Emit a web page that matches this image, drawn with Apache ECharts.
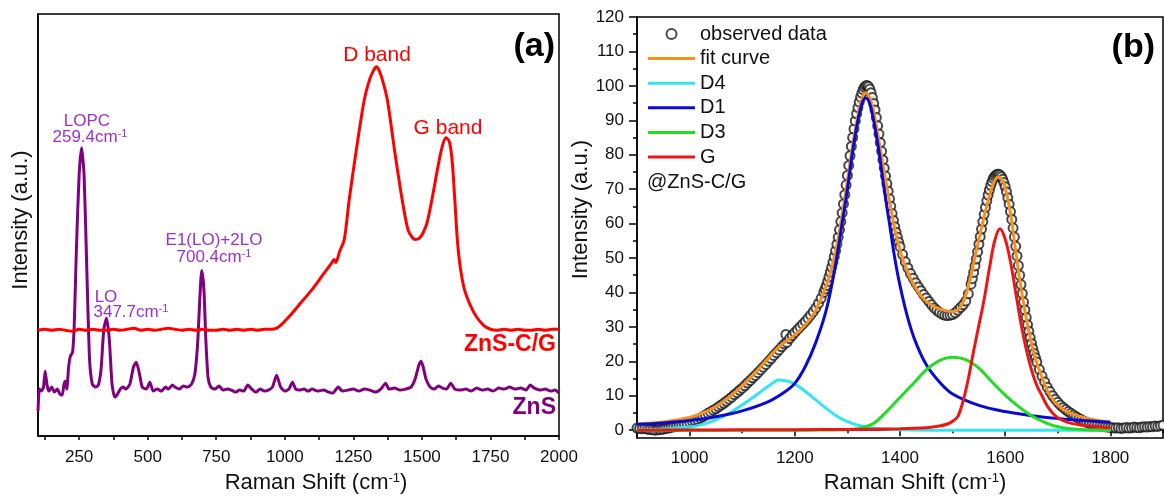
<!doctype html>
<html>
<head>
<meta charset="UTF-8">
<title>Raman spectra ZnS / ZnS-C/G</title>
<script src="https://cdn.jsdelivr.net/npm/echarts@6/dist/echarts.min.js"></script>
<style>
  html, body { margin: 0; padding: 0; background: #fff; }
  #main { width: 1164px; height: 499px; }
</style>
</head>
<body>
<div id="main"></div>
<script>
// ---- panel (a): Raman spectra, [shift cm-1, intensity a.u.] ----
var zncgSpectrum = [[100,106],[125,107],[150,106],[175,107],[200,106],[225,105],[250,107],[275,106],[300,107],[325,106],[350,106],[375,107],[400,106],[425,107],[450,108],[475,106],[500,107],[525,106],[550,107],[575,108],[600,107],[625,106],[650,107],[675,106],[700,107],[725,106],[750,106],[775,107],[800,106],[825,107],[850,106],[875,107],[900,106],[925,107],[950,107],[970,108],[985,111],[1000,115],[1030,124],[1060,134],[1100,147],[1140,162],[1170,173],[1180,177],[1186,174],[1200,185],[1217,197],[1235,237],[1261,287],[1290,337],[1310,358],[1325,367],[1334,370],[1343,367],[1355,358],[1374,337],[1400,287],[1428,237],[1450,206],[1465,199],[1476,197],[1490,198],[1505,204],[1520,215],[1540,242],[1560,272],[1575,291],[1588,299],[1600,295],[1610,277],[1620,237],[1630,194],[1640,169],[1655,147],[1675,132],[1700,119],[1725,111],[1750,107],[1775,106],[1800,107],[1825,106],[1850,107],[1875,106],[1900,106],[1925,107],[1950,106],[1975,107],[2000,107]];

var znsSpectrum = [[100,25],[105,47],[112,45],[120,49],[126,65],[133,51],[140,45],[150,49],[160,44],[170,47],[180,42],[188,41],[195,52],[200,55],[205,47],[212,70],[218,80],[226,84],[232,110],[240,187],[250,262],[259,289],[268,262],[278,167],[288,77],[298,52],[310,49],[320,51],[330,67],[340,107],[350,118],[360,97],[370,52],[380,39],[390,42],[400,47],[410,49],[420,47],[435,52],[448,69],[458,74],[468,65],[480,49],[495,47],[508,54],[520,45],[535,47],[550,45],[565,49],[575,47],[590,51],[600,49],[615,47],[630,50],[645,49],[660,52],[672,62],[682,92],[690,137],[697,166],[705,147],[712,97],[720,59],[730,49],[745,47],[760,50],[775,46],[790,47],[805,46],[820,44],[835,46],[850,45],[865,51],[880,47],[895,44],[910,47],[925,45],[940,46],[955,49],[970,61],[985,49],[1000,45],[1015,47],[1028,54],[1040,47],[1055,46],[1070,47],[1085,45],[1100,47],[1120,45],[1140,46],[1160,44],[1175,43],[1195,49],[1210,45],[1230,46],[1250,47],[1270,45],[1290,47],[1310,46],[1330,44],[1350,47],[1368,53],[1380,47],[1400,48],[1420,46],[1440,47],[1460,49],[1475,57],[1490,72],[1497,75],[1505,69],[1515,57],[1530,49],[1545,47],[1560,50],[1575,48],[1590,47],[1605,53],[1620,47],[1640,46],[1660,47],[1680,45],[1700,48],[1720,46],[1740,47],[1760,45],[1780,48],[1800,47],[1820,49],[1840,47],[1860,48],[1880,46],[1895,51],[1910,48],[1930,46],[1950,47],[1970,45],[1985,46],[2000,43]];

var ticksA = [125,250,375,500,625,750,875,1000,1125,1250,1375,1500,1625,1750,1875,2000];
var labelsA = [250,500,750,1000,1250,1500,1750,2000];

// ---- panel (b): peak fit of ZnS-C/G ----
var observed = [[900,0.6],[905,0.5],[910,0.4],[915,0.5],[920,0.3],[925,0.2],[930,0.1],[935,0],[940,0.1],[945,0.2],[950,0.3],[955,0.5],[960,0.6],[965,0.8],[970,1.0],[975,1.1],[980,1.3],[985,1.5],[990,1.8],[995,2.0],
  [1000,2.3],[1005,2.6],[1010,2.8],[1015,3.1],[1020,3.5],[1025,3.9],[1030,4.4],[1035,4.9],[1040,5.3],[1045,5.8],[1050,6.2],[1055,6.8],[1060,7.3],[1065,7.8],[1070,8.4],[1075,9.0],[1080,9.6],[1085,10.3],[1090,10.9],[1095,11.6],
  [1100,12.2],[1105,12.9],[1110,13.7],[1115,14.4],[1120,15.2],[1125,15.9],[1130,16.7],[1135,17.5],[1140,18.3],[1145,19.1],[1150,20.0],[1155,20.8],[1160,21.7],[1165,22.5],[1170,23.3],[1175,24.2],[1180,25.0],[1183,27.8],[1185,25.5],[1190,26.6],[1195,27.5],
  [1200,28.4],[1205,29.2],[1210,30.0],[1215,30.8],[1220,31.6],[1225,32.5],[1230,33.4],[1235,34.4],[1240,35.5],[1245,36.8],[1250,38.3],[1255,40.0],
  [1257.5,41],[1260,42],[1262.5,43.2],[1265,44.5],[1267.5,45.9],[1270,47.3],[1272.5,48.8],[1275,50.4],[1277.5,52.1],[1280,54],[1282.5,56],[1285,58.2],[1287.5,60.6],[1290,63.1],[1292.5,65.7],[1295,68.4],[1297.5,71.2],
  [1300,74],[1302.5,76.9],[1305,79.7],[1307.5,82.4],[1310,85],[1312.5,87.5],[1315,89.8],[1317.5,91.9],[1320,93.7],[1322.5,95.3],[1325,96.7],[1327.5,97.9],[1330,98.9],[1332.5,99.6],[1335,100],[1337.5,100.1],[1340,99.8],[1342.5,99.1],[1345,98],[1347.5,96.6],
  [1350,94.9],[1352.5,93],[1355,90.8],[1357.5,88.4],[1360,86],[1362.5,83.5],[1365,81],[1367.5,78.5],[1370,76.1],[1372.5,73.8],[1375,71.6],[1377.5,69.4],[1380,67.2],[1382.5,65],[1385,62.9],[1387.5,60.9],[1390,59.1],[1392.5,57.5],[1395,56],[1397.5,54.6],[1400,53.3],
  [1405,51],[1410,48.9],[1415,47.1],[1420,45.5],[1425,44.1],[1430,42.8],[1435,41.6],[1440,40.5],[1445,39.4],[1450,38.4],[1455,37.4],[1460,36.4],[1465,35.5],[1470,34.8],[1475,34.2],[1480,33.7],[1485,33.4],[1490,33.3],[1495,33.4],
  [1500,33.6],[1505,34.1],[1510,34.8],[1515,35.6],[1520,36.4],[1525,37.5],[1530,39.6],[1535,42.4],
  [1537.5,44],[1540,45.8],[1542.5,47.7],[1545,49.7],[1547.5,51.8],[1550,54],[1552.5,56.2],[1555,58.4],[1557.5,60.6],[1560,62.7],[1562.5,64.7],[1565,66.6],[1567.5,68.3],[1570,69.8],[1572.5,71.1],[1575,72.2],[1577.5,73.1],[1580,73.7],[1582.5,74.1],[1585,74.3],[1587.5,74.3],[1590,74.1],[1592.5,73.6],[1595,72.9],[1597.5,71.9],
  [1600,70.7],[1602.5,69.2],[1605,67.5],[1607.5,65.6],[1610,63.5],[1612.5,61.2],[1615,58.7],[1617.5,56.1],[1620,53.4],[1622.5,50.6],[1625,47.8],[1627.5,45],[1630,42.3],[1632.5,39.7],[1635,37.2],[1637.5,34.9],[1640,32.7],[1642.5,30.6],[1645,28.7],[1647.5,26.9],[1650,25.2],[1652.5,23.7],[1655,22.3],[1657.5,21],[1660,19.8],
  [1665,17.6],[1670,15.7],[1675,14],[1680,12.5],[1685,11.2],[1690,10],[1695,9],[1700,8.1],[1705,7.3],[1710,6.6],[1715,6],[1720,5.4],[1725,4.9],[1730,4.4],[1735,3.9],[1740,3.4],[1745,3],[1750,2.6],[1755,2.3],[1760,2],[1765,1.8],[1770,1.6],[1775,1.4],[1780,1.2],[1785,1.1],[1790,1],[1795,0.9],
  [1800,0.8],[1805,0.7],[1810,0.6],[1815,0.7],[1820,0.5],[1825,0.6],[1830,0.8],[1835,0.6],[1840,0.7],[1845,0.9],[1850,0.8],[1855,0.7],[1860,0.9],[1865,1.0],[1870,0.9],[1875,1.1],[1880,1.0],[1885,1.2],[1890,1.1],[1895,1.3],[1900,1.4]];

var fitCurve = [[900,1.8],[950,2.4],[1000,3.7],[1025,5],[1050,6.9],[1075,9.6],[1100,12.9],[1125,16.8],[1150,21],[1170,24.3],[1190,26.5],[1210,29],[1235,33.5],[1260,42],[1275,50],[1285,58],[1300,72.5],[1310,83],[1320,91.4],[1328,96.5],[1335,98],[1342,96.6],[1350,92.5],[1360,84],[1370,75],[1380,66.5],[1390,58.5],[1400,52.3],[1410,47.6],[1420,44],[1430,41.2],[1440,39],[1450,37.4],[1465,35.9],[1480,35],[1490,34.6],[1500,34.5],[1510,34.9],[1520,37.2],[1530,41.8],[1540,48.5],[1550,55.5],[1560,62],[1570,68],[1580,72.5],[1588,73.5],[1595,72.5],[1600,70.5],[1610,63],[1620,52],[1630,41.5],[1640,32.5],[1650,25.2],[1660,19.6],[1670,15.3],[1680,11.5],[1690,9],[1700,7.2],[1720,5.2],[1750,3.7],[1775,2.9],[1800,2.3]];
var peakD4 = [[900,0.1],[950,0.3],[1000,0.9],[1025,1.7],[1050,3.0],[1075,4.9],[1100,7.3],[1125,10],[1150,12.8],[1170,14.6],[1190,14.1],[1210,12.4],[1235,9.4],[1260,6.3],[1285,3.6],[1310,1.9],[1335,0.9],[1360,0.4],[1400,0.1],[1450,0],[1500,0],[1600,0],[1700,0],[1800,0]];
var peakD1 = [[900,1.7],[950,2.1],[1000,2.8],[1050,3.9],[1100,5.6],[1150,8.3],[1180,11],[1200,13.6],[1220,18.5],[1240,25.5],[1260,35],[1275,46],[1290,60],[1300,70],[1310,81],[1320,90],[1328,95],[1335,96.5],[1342,95],[1350,90],[1360,81],[1370,70],[1380,60],[1390,50],[1400,42],[1415,32.5],[1430,25.5],[1450,19],[1475,14],[1500,10.5],[1550,7.2],[1600,5.4],[1650,4.2],[1700,3.4],[1750,2.8],[1800,2.3]];
var peakD3 = [[900,0],[1000,0],[1100,0],[1200,0],[1250,0.05],[1300,0.2],[1325,0.6],[1350,2],[1375,5.5],[1400,9.5],[1425,13.5],[1450,17.5],[1475,20.2],[1500,21.2],[1525,20.5],[1550,18],[1575,14],[1600,10.2],[1625,6.9],[1650,4.2],[1675,2.3],[1700,1],[1725,0.4],[1750,0.15],[1800,0]];
var peakG = [[900,0],[1000,0.05],[1100,0.1],[1200,0.15],[1300,0.2],[1400,0.4],[1450,0.7],[1475,1.2],[1490,1.8],[1500,2.6],[1510,4],[1520,8.5],[1530,15],[1540,23],[1550,30.5],[1560,38],[1570,47],[1580,55],[1590,58.5],[1600,55.5],[1610,49],[1620,40],[1630,31],[1640,23.5],[1650,17.5],[1660,13],[1670,10],[1680,7],[1690,5],[1700,3.6],[1720,2.2],[1750,1.4],[1775,1],[1800,0.7]];

var ticksBx = [1000,1200,1400,1600,1800];
var minorBx = [900,1100,1300,1500,1700,1900];
var ticksBy = [0,10,20,30,40,50,60,70,80,90,100,110,120];
var minorBy = [5,15,25,35,45,55,65,75,85,95,105,115];

var FONT = 'Liberation Sans, Arial, sans-serif';
var PURPLE_TXT = '#9b30cc';
// flat bar icon for the line entries of the legend (box 47 x 10, bar 3px high)
var LINE_ICON = 'path://M0,0L0.01,0M0,10L0.01,10M0,3.5L47,3.5L47,6.5L0,6.5Z';

function label(text, x, y, size, color, align, weight) {
    return {
        type: 'text', z: 100,
        style: {
            text: text, x: x, y: y,
            fontSize: size, fontFamily: FONT, fontWeight: weight || 'normal',
            fill: color, align: align || 'center', verticalAlign: 'middle',
            rich: { s: { fontSize: Math.round(size * 0.62), verticalAlign: 'top', fontFamily: FONT, fill: color } }
        }
    };
}

function plain(v) { return String(v); }

var myChart = echarts.init(document.getElementById('main'));

var axisLine = { show: true, lineStyle: { color: '#000', width: 1.5 } };
var tickLabel = { color: '#111', fontSize: 17, fontFamily: FONT, formatter: plain };

function lineSeries(name, data, color) {
    return {
        name: name, type: 'line', xAxisIndex: 1, yAxisIndex: 1, data: data,
        symbol: 'none', smooth: 0.35,
        lineStyle: { color: color, width: 3 }, itemStyle: { color: color }
    };
}

var option = {
    animation: false,
    backgroundColor: '#fff',
    grid: [
        { left: 38, top: 14, width: 521, height: 423, show: true, borderColor: '#000', borderWidth: 1.5 },
        { left: 637, top: 17, width: 526, height: 424, show: true, borderColor: '#000', borderWidth: 1.5 }
    ],
    xAxis: [
        {
            gridIndex: 0, type: 'value', min: 100, max: 2000,
            axisLine: axisLine,
            axisTick: { show: true, length: 4, customValues: ticksA, lineStyle: { color: '#000', width: 1.5 } },
            axisLabel: Object.assign({ customValues: labelsA, margin: 13 }, tickLabel),
            splitLine: { show: false },
            name: 'Raman Shift (cm{s|-1})', nameLocation: 'middle', nameGap: 36,
            nameTextStyle: { fontSize: 22, fontFamily: FONT, color: '#111', padding: [0, 0, 0, 35], rich: { s: { fontSize: 13, verticalAlign: 'top', fontFamily: FONT } } }
        },
        {
            gridIndex: 1, type: 'value', min: 900, max: 1900, position: 'bottom',
            axisLine: axisLine,
            axisTick: { show: true, length: 6, customValues: ticksBx, lineStyle: { color: '#000', width: 1.5 } },
            axisLabel: Object.assign({ customValues: ticksBx, margin: 12 }, tickLabel),
            splitLine: { show: false },
            name: 'Raman Shift (cm{s|-1})', nameLocation: 'middle', nameGap: 30,
            nameTextStyle: { fontSize: 22, fontFamily: FONT, color: '#111', padding: [0, 0, 0, 30], rich: { s: { fontSize: 13, verticalAlign: 'top', fontFamily: FONT } } }
        },
        {
            gridIndex: 1, type: 'value', min: 900, max: 1900, position: 'bottom',
            axisLine: { show: false },
            axisTick: { show: true, length: 3, customValues: minorBx, lineStyle: { color: '#000', width: 1.5 } },
            axisLabel: { show: false },
            splitLine: { show: false }
        }
    ],
    yAxis: [
        {
            gridIndex: 0, type: 'value', min: 0, max: 423,
            axisLine: axisLine, axisTick: { show: false }, axisLabel: { show: false },
            splitLine: { show: false },
            name: 'Intensity (a.u.)', nameLocation: 'middle', nameGap: 6,
            nameTextStyle: { fontSize: 22, fontFamily: FONT, color: '#111', padding: [0, 0, 0, 10] }
        },
        {
            gridIndex: 1, type: 'value', min: -2.3, max: 120, position: 'left',
            axisLine: axisLine,
            axisTick: { show: true, length: 8, customValues: ticksBy, lineStyle: { color: '#000', width: 1.5 } },
            axisLabel: Object.assign({ customValues: ticksBy, margin: 13 }, tickLabel),
            splitLine: { show: false },
            name: 'Intensity (a.u.)', nameLocation: 'middle', nameGap: 38,
            nameTextStyle: { fontSize: 22, fontFamily: FONT, color: '#111', padding: [0, 0, 0, 36] }
        },
        {
            gridIndex: 1, type: 'value', min: -2.3, max: 120, position: 'left',
            axisLine: { show: false },
            axisTick: { show: true, length: 4, customValues: minorBy, lineStyle: { color: '#000', width: 1.5 } },
            axisLabel: { show: false },
            splitLine: { show: false }
        }
    ],
    legend: {
        orient: 'vertical', left: 643, top: 19,
        itemWidth: 47, itemHeight: 10, itemGap: 4.6,
        textStyle: { fontSize: 20, fontFamily: FONT, color: '#111' },
        data: [
            { name: 'observed data', icon: 'emptyCircle' },
            { name: 'fit curve', icon: LINE_ICON, itemStyle: { borderWidth: 0 } },
            { name: 'D4', icon: LINE_ICON, itemStyle: { borderWidth: 0 } },
            { name: 'D1', icon: LINE_ICON, itemStyle: { borderWidth: 0 } },
            { name: 'D3', icon: LINE_ICON, itemStyle: { borderWidth: 0 } },
            { name: 'G', icon: LINE_ICON, itemStyle: { borderWidth: 0 } }
        ]
    },
    series: [
        {
            name: 'ZnS', type: 'line', xAxisIndex: 0, yAxisIndex: 0, data: znsSpectrum,
            symbol: 'none', smooth: 0.2,
            lineStyle: { color: '#800080', width: 3 }, itemStyle: { color: '#800080' }
        },
        {
            name: 'ZnS-C/G', type: 'line', xAxisIndex: 0, yAxisIndex: 0, data: zncgSpectrum,
            symbol: 'none', smooth: 0.3,
            lineStyle: { color: '#ff0000', width: 3 }, itemStyle: { color: '#ff0000' }
        },
        {
            name: 'observed data', type: 'scatter', xAxisIndex: 1, yAxisIndex: 1, data: observed,
            symbol: 'emptyCircle', symbolSize: 9,
            itemStyle: { color: '#1a1a1a', borderWidth: 1.1 }
        },
        lineSeries('fit curve', fitCurve, '#f7901e'),
        lineSeries('D4', peakD4, '#2fe6f4'),
        lineSeries('D1', peakD1, '#0a0ad0'),
        lineSeries('D3', peakD3, '#22dd22'),
        lineSeries('G', peakG, '#ee1515')
    ],
    graphic: [
        label('(a)', 555, 47, 34, '#000', 'right', 'bold'),
        label('D band', 377, 55, 21, '#ff0000'),
        label('G band', 448, 128, 21, '#ff0000'),
        label('LOPC', 87, 121, 17, PURPLE_TXT),
        label('259.4cm{s|-1}', 90, 137, 17, PURPLE_TXT),
        label('LO', 106, 297, 17, PURPLE_TXT),
        label('347.7cm{s|-1}', 131, 312, 17, PURPLE_TXT),
        label('E1(LO)+2LO', 214, 240, 17, PURPLE_TXT),
        label('700.4cm{s|-1}', 214, 257, 17, PURPLE_TXT),
        label('ZnS-C/G', 556, 345, 23, '#ff0000', 'right', 'bold'),
        label('ZnS', 556, 408, 23, '#800080', 'right', 'bold'),
        label('(b)', 1155, 48, 34, '#000', 'right', 'bold'),
        label('@ZnS-C/G', 647, 182, 20, '#111', 'left')
    ]
};

myChart.setOption(option);
</script>
</body>
</html>
